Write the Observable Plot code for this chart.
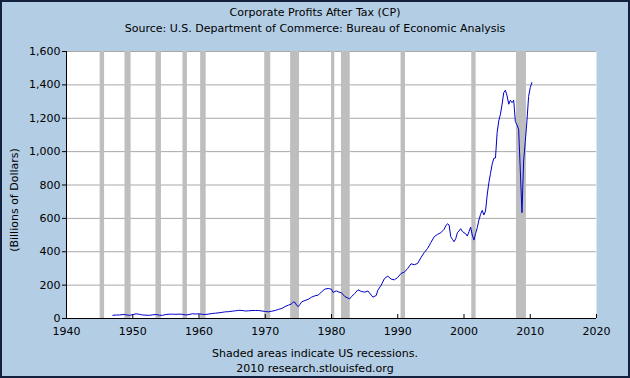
<!DOCTYPE html>
<html>
<head>
<meta charset="utf-8">
<script src="https://cdn.jsdelivr.net/npm/d3@7"></script>
<script src="https://cdn.jsdelivr.net/npm/@observablehq/plot@0.6"></script>
<style>
  html, body { margin: 0; padding: 0; background: #b3cde4; }
  #wrap { position: relative; width: 630px; height: 378px; background: #b3cde4; overflow: hidden;
          font-family: "DejaVu Sans", Verdana, sans-serif; font-size: 11px; color: #000; }
  #frame { position: absolute; left: 0; top: 0; width: 630px; height: 378px; box-sizing: border-box;
           border: 2px solid #13213f; pointer-events: none; }
  .t { position: absolute; left: 0; width: 630px; text-align: center; line-height: 14px; white-space: nowrap; }
  #chart { position: absolute; left: 0; top: 0; }
  #ylab { position: absolute; left: 15px; top: 200px; transform: translate(-50%, -50%) rotate(-90deg);
          white-space: nowrap; line-height: 14px; }
</style>
</head>
<body>
<div id="wrap">
  <div id="chart"></div>
  <div class="t" style="top:6px">Corporate Profits After Tax (CP)</div>
  <div class="t" style="top:22px">Source: U.S. Department of Commerce: Bureau of Economic Analysis</div>
  <div id="ylab">(Billions of Dollars)</div>
  <div class="t" style="top:347px">Shaded areas indicate US recessions.</div>
  <div class="t" style="top:362px">2010 research.stlouisfed.org</div>
  <div id="frame"></div>
</div>
<script>
const years = [
  1947.0, 1947.5, 1948.0, 1948.5, 1949.0, 1949.5, 1950.0, 1950.5, 1951.0, 1951.5,
  1952.0, 1952.5, 1953.0, 1953.5, 1954.0, 1954.5, 1955.0, 1955.5, 1956.0, 1956.5,
  1957.0, 1957.5, 1958.0, 1958.5, 1959.0, 1959.5, 1960.0, 1960.5, 1961.0, 1961.5,
  1962.0, 1962.5, 1963.0, 1963.5, 1964.0, 1964.5, 1965.0, 1965.5, 1966.0, 1966.5,
  1967.0, 1967.5, 1968.0, 1968.5, 1969.0, 1969.5, 1970.0, 1970.5, 1971.0, 1971.5,
  1972.0, 1972.5, 1973.0, 1973.5, 1974.0, 1974.25, 1974.5, 1974.75, 1975.0, 1975.25,
  1975.5, 1976.0, 1976.5, 1977.0, 1977.5, 1978.0, 1978.5, 1979.0, 1979.5, 1979.75,
  1980.0, 1980.25, 1980.5, 1980.75, 1981.0, 1981.5, 1982.0, 1982.5, 1982.75, 1983.0,
  1983.5, 1984.0, 1984.5, 1985.0, 1985.5, 1986.0, 1986.25, 1986.75, 1987.0, 1987.5,
  1988.0, 1988.5, 1989.0, 1989.5, 1990.0, 1990.5, 1991.0, 1991.5, 1992.0, 1992.5,
  1993.0, 1993.5, 1994.0, 1994.5, 1995.0, 1995.5, 1996.0, 1996.5, 1997.0, 1997.25,
  1997.5, 1997.75, 1998.0, 1998.25, 1998.5, 1998.75, 1999.0, 1999.25, 1999.5, 1999.75,
  2000.0, 2000.25, 2000.5, 2000.75, 2001.0, 2001.25, 2001.5, 2001.75, 2002.0, 2002.25,
  2002.5, 2002.75, 2003.0, 2003.25, 2003.5, 2003.75, 2004.0, 2004.25, 2004.5, 2004.75,
  2005.0, 2005.25, 2005.5, 2005.75, 2006.0, 2006.25, 2006.5, 2006.75, 2007.0, 2007.25,
  2007.5, 2007.75, 2008.0, 2008.25, 2008.5, 2008.75, 2009.0, 2009.25, 2009.5, 2009.75,
  2010.0, 2010.25
];
const profits = [
  19, 21, 21, 24, 22, 19, 23, 28, 25, 21,
  20, 19, 22, 24, 20, 19, 24, 26, 26, 25,
  26, 25, 21, 24, 28, 27, 28, 25, 24, 27,
  30, 32, 34, 37, 40, 41, 44, 46, 49, 48,
  45, 46, 48, 48, 48, 45, 42, 40, 44, 48,
  55, 60, 72, 80, 88, 100, 96, 78, 72, 85,
  100, 108, 115, 128, 136, 140, 160, 176, 180, 178,
  175, 156, 162, 165, 160, 154, 132, 122, 118, 130,
  150, 172, 162, 158, 165, 140, 128, 138, 170, 200,
  240, 254, 236, 232, 246, 270, 278, 300, 328, 322,
  330, 365, 395, 420, 455, 490, 504, 514, 535, 555,
  568, 560, 490, 475, 460, 478, 514, 525, 538, 522,
  514, 508, 494, 520, 548, 500, 470, 510, 544, 590,
  624, 648, 620, 644, 740, 814, 870, 924, 960, 962,
  1114, 1184, 1224, 1284, 1354, 1368, 1334, 1284, 1308, 1294,
  1308, 1180, 1160, 1134, 884, 634, 944, 1060, 1184, 1330,
  1384, 1414
];
const recessionStart = [1945.08, 1948.83, 1953.5, 1957.58, 1960.25, 1969.92, 1973.83, 1980.0, 1981.5, 1990.5, 2001.17, 2007.92];
const recessionEnd   = [1945.75, 1949.75, 1954.33, 1958.25, 1961.08, 1970.83, 1975.17, 1980.5, 1982.83, 1991.17, 2001.83, 2009.42];
const yTicks = [0, 200, 400, 600, 800, 1000, 1200, 1400, 1600];
const xTicks = [1940, 1950, 1960, 1970, 1980, 1990, 2000, 2010, 2020];

const data = years.map((x, i) => ({x, y: profits[i]}));
const recessions = recessionStart.map((s, i) => ({x1: s, x2: recessionEnd[i]}));
const yMin = yTicks[0], yMax = yTicks[yTicks.length - 1];

const chart = Plot.plot({
  width: 630,
  height: 378,
  marginLeft: 66,
  marginRight: 34,
  marginTop: 51,
  marginBottom: 60,
  style: {background: "transparent", fontFamily: "DejaVu Sans, Verdana, sans-serif", fontSize: "11px", color: "#000"},
  x: {domain: [xTicks[0], xTicks[xTicks.length - 1]]},
  y: {domain: [yMin, yMax]},
  marks: [
    Plot.frame({fill: "white", stroke: null}),
    Plot.gridY(yTicks, {stroke: "#a8a8a8", strokeOpacity: 1}),
    Plot.rect(recessions, {x1: "x1", x2: "x2", y1: () => yMin, y2: () => yMax, fill: "#bebebe"}),
    Plot.ruleX(xTicks, {stroke: "#000", insetTop: 263}),
    Plot.ruleY([yMin], {stroke: "#000"}),
    Plot.ruleX([xTicks[0]], {stroke: "#000"}),
    Plot.axisY(yTicks, {tickSize: 4, tickPadding: 2, tickFormat: d3.format(","), label: null}),
    Plot.axisX(xTicks, {tickSize: 0, tickPadding: 9, tickFormat: d => String(d), label: null}),
    Plot.line(data, {x: "x", y: "y", stroke: "#0000cc", strokeWidth: 1})
  ]
});
document.getElementById("chart").appendChild(chart);
</script>
</body>
</html>
